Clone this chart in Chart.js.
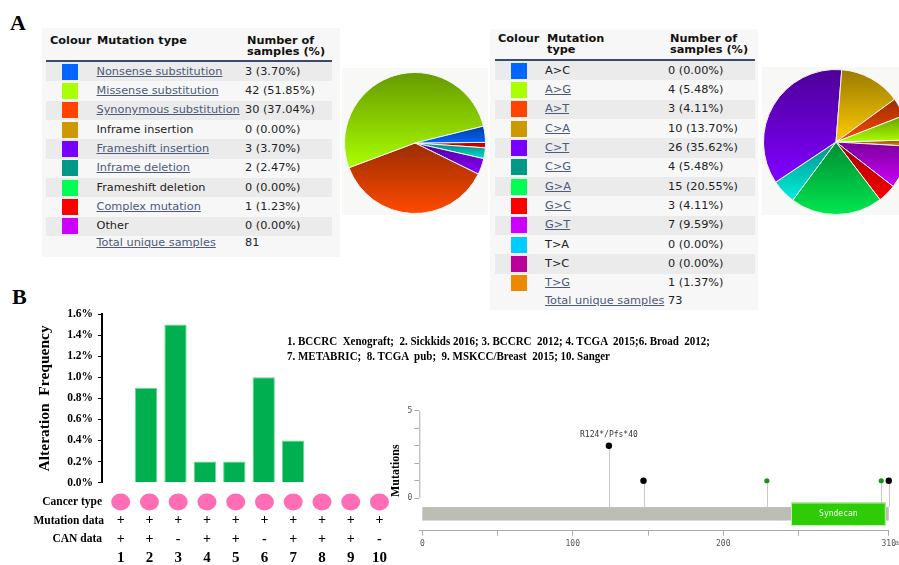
<!DOCTYPE html>
<html><head><meta charset="utf-8">
<script src="https://cdn.jsdelivr.net/npm/chart.js@4.4.1/dist/chart.umd.min.js"></script>
<style>
html,body{margin:0;padding:0;background:#fff;}
#root{position:relative;width:899px;height:565px;overflow:hidden;background:#fff;}
.panel{position:absolute;font-family:"Liberation Serif","Times New Roman",serif;font-weight:bold;font-size:22px;line-height:22px;color:#000;}
.box{position:absolute;background:#f7f7f7;}
.pbox{position:absolute;background:#f8f8f6;}
.tx{position:absolute;font-family:"DejaVu Sans",Verdana,sans-serif;font-size:11.3px;white-space:nowrap;color:#222;line-height:12px;}
.hd{font-weight:bold;color:#111;}
.lk{color:#4e5a7a;text-decoration:underline;text-underline-offset:1px;}
.stripe{position:absolute;background:#ebebeb;}
.uline{position:absolute;background:#3a4a6a;height:2px;}
.sw{position:absolute;width:16px;height:16px;}
.ref{position:absolute;font-family:"Liberation Serif","Times New Roman",serif;font-weight:bold;font-size:12px;line-height:14px;white-space:pre;transform-origin:0 50%;color:#000;}
canvas{position:absolute;}
</style></head>
<body><div id="root">
<div class="panel" style="left:10px;top:12px;">A</div>
<div class="panel" style="left:12px;top:286px;">B</div>
<div class="box" style="left:42px;top:28px;width:298px;height:229px;"></div>
<div class="box" style="left:490px;top:29px;width:268px;height:281px;"></div>
<div class="pbox" style="left:342px;top:68px;width:146px;height:147px;"></div>
<div class="pbox" style="left:762px;top:67px;width:140px;height:148px;"></div>
<div id="t1"></div><div id="t2"></div>
<canvas id="pie1" width="142" height="142" style="left:344px;top:72px;"></canvas>
<canvas id="pie2" width="146" height="146" style="left:763px;top:69px;"></canvas>
<canvas id="bar" width="405" height="265" style="left:0px;top:300px;"></canvas>
<canvas id="lol" width="519" height="175" style="left:380px;top:390px;"></canvas>
<div class="ref" id="ref1" style="left:287px;top:333.7px;"></div>
<div class="ref" id="ref2" style="left:287px;top:349px;"></div>
</div>
<script>
// ---------- DATA ----------
const mutTypes = ['Nonsense substitution','Missense substitution','Synonymous substitution','Inframe insertion','Frameshift insertion','Inframe deletion','Frameshift deletion','Complex mutation','Other'];
const mutCounts = [3,42,30,0,3,2,0,1,0];
const mutPct = ['3.70%','51.85%','37.04%','0.00%','3.70%','2.47%','0.00%','1.23%','0.00%'];
const mutLinks = [true,true,true,false,true,true,false,true,false];
const mutTotal = 81;

const subTypes = ['A>C','A>G','A>T','C>A','C>T','C>G','G>A','G>C','G>T','T>A','T>C','T>G'];
const subCounts = [0,4,3,10,26,4,15,3,7,0,0,1];
const subPct = ['0.00%','5.48%','4.11%','13.70%','35.62%','5.48%','20.55%','4.11%','9.59%','0.00%','0.00%','1.37%'];
const subLinks = [false,true,true,true,true,true,true,true,true,false,false,true];
const subTotal = 73;

const studies = ['1','2','3','4','5','6','7','8','9','10'];
const altFreq = [0,0.9,1.5,0.2,0.2,1.0,0.4,0,0,0];
const cancerType = ['breast','breast','breast','breast','breast','breast','breast','breast','breast','breast'];
const mutationData = ['+','+','+','+','+','+','+','+','+','+'];
const canData = ['+','+','-','+','+','-','+','+','+','-'];
const studyNames1 = '1. BCCRC  Xenograft;  2. Sickkids 2016; 3. BCCRC  2012; 4. TCGA  2015;6. Broad  2012;';
const studyNames2 = '7. METABRIC;  8. TCGA  pub;  9. MSKCC/Breast  2015; 10. Sanger';

const mutPos = [124,147,229,305,310];
const mutNum = [3,1,1,1,1];
const mutKind = ['trunc','trunc','missense','missense','trunc'];
const mutLabel = ['R124*/Pfs*40','','','',''];
const proteinLength = 310;
const domainName = 'Syndecan';
const domainStart = 245, domainEnd = 308;
const lolXTicks = [0,50,100,150,200,250,310];
const lolXLabels = [0,100,200,310];
const lolYTicks = [0,1,2,3,4,5];

// ---------- STYLES ----------
const mutColors = ['#0066ff','#aaff00','#ff4400','#cc9900','#7700ff','#009988','#00ff55','#ff0000','#cc00ff'];
const mutPieColors = ['#0066ff','#aaff00','#ff4a00','#ffcc00','#8800ff','#00e0d0','#00ff55','#ff0000','#cc00ff'];
const subColors = ['#0066ff','#aaff00','#ff4400','#cc9900','#7700ff','#009988','#00ff55','#ff0000','#cc00ff','#00ccff','#bb0099','#ee8800'];
const subPieColors = ['#0066ff','#aaff00','#ff4a00','#ffcc00','#8000ff','#00f0e0','#00e850','#ff0000','#cc00ff','#00ccff','#bb0099','#ee8800'];

// ---------- TABLES ----------
function addEl(parent, cls, css, text){
  const d=document.createElement('div'); d.className=cls; d.style.cssText=css;
  if(text!==undefined) d.textContent=text; parent.appendChild(d); return d;
}
function buildTable(root, cfg){
  cfg.headers.forEach(h=>{
    addEl(root,'tx hd',`left:${h.x}px;top:${h.y-6}px;`,h.t);
  });
  addEl(root,'uline',`left:${cfg.x0}px;top:${cfg.ul}px;width:${cfg.x1-cfg.x0}px;`);
  cfg.types.forEach((t,i)=>{
    const top = cfg.rowTop + i*cfg.rh;
    const cy = top + cfg.rh/2;
    if(i%2===0) addEl(root,'stripe',`left:${cfg.x0}px;top:${top}px;width:${cfg.x1-cfg.x0}px;height:${cfg.rh}px;`);
    addEl(root,'sw',`left:${cfg.swx}px;top:${cy-8}px;background:${cfg.colors[i]};`);
    const s = addEl(root,'tx',`left:${cfg.tx}px;top:${cy-6}px;`);
    const sp=document.createElement('span'); sp.textContent=t; if(cfg.links[i]) sp.className='lk'; s.appendChild(sp);
    addEl(root,'tx',`left:${cfg.vx}px;top:${cy-6}px;`,`${cfg.counts[i]} (${cfg.pct[i]})`);
  });
  const s = addEl(root,'tx',`left:${cfg.tx}px;top:${cfg.totY-6}px;`);
  const sp=document.createElement('span'); sp.textContent='Total unique samples'; sp.className='lk'; s.appendChild(sp);
  addEl(root,'tx',`left:${cfg.vx}px;top:${cfg.totY-6}px;`,String(cfg.total));
}
buildTable(document.getElementById('t1'),{
  headers:[{x:50,y:40.7,t:'Colour'},{x:97,y:40.7,t:'Mutation type'},{x:247,y:40.7,t:'Number of'},{x:247,y:51.7,t:'samples (%)'}],
  x0:46,x1:332,ul:60,rowTop:62,rh:19.33,swx:62,tx:96.5,vx:245,totY:243,
  types:mutTypes,counts:mutCounts,pct:mutPct,links:mutLinks,colors:mutColors,total:mutTotal});
buildTable(document.getElementById('t2'),{
  headers:[{x:498,y:39,t:'Colour'},{x:547,y:39,t:'Mutation'},{x:547,y:50.3,t:'type'},{x:670,y:39,t:'Number of'},{x:670,y:50.3,t:'samples (%)'}],
  x0:495,x1:755,ul:59,rowTop:61,rh:19.33,swx:511,tx:545,vx:668,totY:301,
  types:subTypes,counts:subCounts,pct:subPct,links:subLinks,colors:subColors,total:subTotal});

// ---------- PIES ----------
function shade(hex,f){
  const n=parseInt(hex.slice(1),16);
  const r=Math.round(((n>>16)&255)*f), g=Math.round(((n>>8)&255)*f), b=Math.round((n&255)*f);
  return `rgb(${r},${g},${b})`;
}
function inArc(a,a0,a1){ const T=Math.PI*2; let x=((a-a0)%T+T)%T; return x<=a1-a0; }
function sliceGrad(ctx, vals, cols, rot){
  const chart=ctx.chart, ca=chart.chartArea, i=ctx.dataIndex;
  if(!ca) return cols[i];
  const cx=(ca.left+ca.right)/2, cy=(ca.top+ca.bottom)/2, r=Math.min(ca.width,ca.height)/2;
  const tot=vals.reduce((a,b)=>a+b,0);
  let a0=(rot-90)*Math.PI/180;
  for(let j=0;j<i;j++) a0+=vals[j]/tot*Math.PI*2;
  const a1=a0+vals[i]/tot*Math.PI*2;
  const ys=[cy, cy+r*Math.sin(a0), cy+r*Math.sin(a1)];
  if(inArc(Math.PI/2,a0,a1)) ys.push(cy+r);
  if(inArc(-Math.PI/2,a0,a1)) ys.push(cy-r);
  let top=Math.min(...ys), bot=Math.max(...ys); if(bot-top<2) bot=top+2;
  const g=chart.ctx.createLinearGradient(0,top,0,bot);
  g.addColorStop(0,shade(cols[i],0.6)); g.addColorStop(1,cols[i]);
  return g;
}
function makePie(id, labels, values, colors, rot){
  const v=values.slice().reverse(), c=colors.slice().reverse(), l=labels.slice().reverse();
  new Chart(document.getElementById(id),{
    type:'pie',
    data:{labels:l,datasets:[{data:v,backgroundColor:(ctx)=>sliceGrad(ctx,v,c,rot),borderColor:'#f4f4f4',borderWidth:1}]},
    options:{responsive:false,animation:false,rotation:rot,layout:{padding:0},
      plugins:{legend:{display:false},tooltip:{enabled:false}}}
  });
}
makePie('pie1',mutTypes,mutCounts,mutPieColors,89.5);
makePie('pie2',subTypes,subCounts,subPieColors,88.4);

// ---------- BAR CHART ----------
const rowsPlugin={id:'rows',afterDraw(chart){
  const c=chart.ctx, xs=chart.scales.x;
  const colX=i=>xs.getPixelForValue(i)+4-0.65*i;
  c.save(); c.fillStyle='#000'; c.textBaseline='middle';
  c.font='bold 11.5px "Liberation Serif", serif'; c.textAlign='right';
  c.fillText('Cancer type',102,202); c.fillText('Mutation data',104,220.7); c.fillText('CAN data',102,239.3);
  c.textAlign='center';
  studies.forEach((s,i)=>{
    const x=colX(i);
    if(cancerType[i]){ c.fillStyle='#ff6eb4'; c.beginPath(); c.ellipse(x,202,9.5,8.5,0,0,Math.PI*2); c.fill(); }
    c.fillStyle='#000';
    c.font='bold 14px "Liberation Serif", serif';
    c.fillText(mutationData[i],x,220.7);
    c.fillText(canData[i],x,239.3);
    c.font='bold 15px "Liberation Serif", serif';
    c.fillText(s,x,258.3);
  });
  c.restore();
}};
new Chart(document.getElementById('bar'),{
  type:'bar',
  data:{labels:studies,datasets:[{data:altFreq,backgroundColor:'#00b050',borderColor:'#6ad990',
    borderWidth:(ctx)=>ctx.raw>0?1:0,barPercentage:0.76,categoryPercentage:1}]},
  options:{responsive:false,animation:false,
    layout:{padding:{left:36,right:9,top:14,bottom:82.3}},
    scales:{
      x:{display:false},
      y:{min:0,max:1.6,
        ticks:{stepSize:0.2,callback:(v)=>v.toFixed(1)+'%',color:'#000',padding:5,
          font:{family:'"Liberation Serif", serif',weight:'bold',size:11.5}},
        grid:{drawOnChartArea:false,drawTicks:true,tickLength:4,color:'#000'},
        border:{display:true,color:'#000',width:2},
        title:{display:true,text:'Alteration  Frequency',color:'#000',padding:0,
          font:{family:'"Liberation Serif", serif',weight:'bold',size:15.5}},
        afterFit(s){s.width=66;}
      }
    },
    plugins:{legend:{display:false},tooltip:{enabled:false}}
  },
  plugins:[rowsPlugin]
});

// ---------- LOLLIPOP ----------
const lolPlugin={id:'lol',
  beforeDatasetsDraw(chart){
    const c=chart.ctx, xs=chart.scales.x, ys=chart.scales.y, ca=chart.chartArea;
    c.save();
    c.strokeStyle='#aaa'; c.lineWidth=1; c.beginPath();
    c.moveTo(ca.left+0.5,ys.getPixelForValue(0)); c.lineTo(ca.left+0.5,ys.getPixelForValue(5)); c.stroke();
    c.strokeStyle='#c8c8c8';
    mutPos.forEach((p,i)=>{ const x=Math.round(xs.getPixelForValue(p))+0.5;
      c.beginPath(); c.moveTo(x,ys.getPixelForValue(mutNum[i])); c.lineTo(x,ys.getPixelForValue(-0.5)); c.stroke(); });
    const x0=xs.getPixelForValue(0), x1=xs.getPixelForValue(proteinLength);
    const y0=ys.getPixelForValue(-0.5), y1=ys.getPixelForValue(-1.27);
    c.fillStyle='#bcbdb5'; c.fillRect(x0,y0,x1-x0,y1-y0);
    const d0=xs.getPixelForValue(domainStart), d1=xs.getPixelForValue(domainEnd);
    const e0=ys.getPixelForValue(-0.24), e1=ys.getPixelForValue(-1.58);
    c.fillStyle='#2ecc06'; c.fillRect(d0,e0,d1-d0,e1-e0);
    c.strokeStyle='#c9efbd'; c.strokeRect(d0+0.5,e0+0.5,d1-d0-1,e1-e0-1);
    c.fillStyle='#fff'; c.font='8px "DejaVu Sans Mono", monospace'; c.textAlign='center'; c.textBaseline='middle';
    c.fillText(domainName,(d0+d1)/2,(e0+e1)/2);
    c.restore();
  },
  afterDatasetsDraw(chart){
    const c=chart.ctx, xs=chart.scales.x, ys=chart.scales.y;
    c.save(); c.fillStyle='#333'; c.font='8px "DejaVu Sans Mono", monospace'; c.textAlign='center'; c.textBaseline='middle';
    mutPos.forEach((p,i)=>{ if(mutLabel[i]) c.fillText(mutLabel[i],xs.getPixelForValue(p),ys.getPixelForValue(mutNum[i])-11); });
    c.fillStyle='#666'; c.font='7px "DejaVu Sans Mono", monospace'; c.textAlign='left';
    c.fillText('aa',xs.getPixelForValue(proteinLength)+6,chart.chartArea.bottom+12.6);
    c.restore();
  }
};
const pts=k=>mutPos.map((p,i)=>({x:p,y:mutNum[i],k:mutKind[i]})).filter(o=>o.k===k);
new Chart(document.getElementById('lol'),{
  type:'scatter',
  data:{datasets:[
    {data:pts('trunc'),pointBackgroundColor:'#000',pointBorderWidth:0,pointRadius:3.2,clip:false},
    {data:pts('missense'),pointBackgroundColor:'#1f8f1f',pointBorderWidth:0,pointRadius:2.6,clip:false}
  ]},
  options:{responsive:false,animation:false,
    layout:{padding:{left:8.5,right:9.4,top:20.7,bottom:0}},
    scales:{
      x:{type:'linear',min:-2,max:proteinLength,
        afterBuildTicks(s){s.ticks=lolXTicks.map(v=>({value:v}));},
        ticks:{autoSkip:false,maxRotation:0,padding:3,color:'#555',
          callback:(v)=>lolXLabels.includes(v)?String(v):'',
          font:{family:'"DejaVu Sans Mono", monospace',size:8}},
        grid:{drawOnChartArea:false,drawTicks:true,tickLength:5,color:'#aaa'},
        border:{display:true,color:'#aaa'},
        afterFit(s){s.height=34.3;}
      },
      y:{min:-1.85,max:5,
        afterBuildTicks(s){s.ticks=lolYTicks.map(v=>({value:v}));},
        ticks:{autoSkip:false,padding:2,color:'#555',
          callback:(v)=>(v===0||v===5)?String(v):'',
          font:{family:'"DejaVu Sans Mono", monospace',size:8}},
        grid:{drawOnChartArea:false,drawTicks:true,tickLength:5,color:'#aaa'},
        border:{display:false},
        title:{display:true,text:'Mutations',color:'#000',padding:0,
          font:{family:'"Liberation Serif", serif',weight:'bold',size:12}},
        afterFit(s){s.width=30.8;}
      }
    },
    plugins:{legend:{display:false},tooltip:{enabled:false}}
  },
  plugins:[lolPlugin]
});

// ---------- STUDY LIST ----------
function fitText(id, text, target){
  const el=document.getElementById(id); el.textContent=text;
  const w=el.getBoundingClientRect().width;
  el.style.transform=`scaleX(${target/w})`;
}
fitText('ref1',studyNames1,423);
fitText('ref2',studyNames2,323);
</script>
</body></html>
